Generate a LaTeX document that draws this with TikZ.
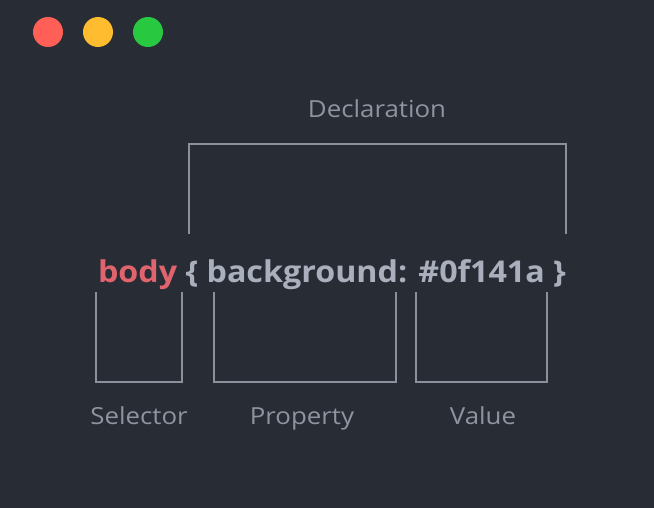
\documentclass[tikz,border=0pt]{standalone}
\usepackage{fontspec}
\setmainfont{Open Sans}
\definecolor{bg}{HTML}{282C35}
\definecolor{dred}{HTML}{FF5F57}
\definecolor{dyel}{HTML}{FEBC2E}
\definecolor{dgrn}{HTML}{28C840}
\definecolor{linec}{HTML}{8B909C}
\definecolor{labc}{HTML}{8E94A0}
\definecolor{codec}{HTML}{A9AFBC}
\definecolor{selc}{HTML}{E0646E}
\tikzset{
  dot/.style={circle,minimum size=30pt,inner sep=0pt},
  brk/.style={draw=linec,line width=1.6pt},
  lab/.style={text=labc,font=\fontsize{23.5}{26}\selectfont,inner sep=0pt,anchor=base,xscale=1.1},
  code/.style={text=codec,font=\fontsize{30}{34}\selectfont\bfseries,inner sep=0pt,anchor=base,xscale=1.075}
}
\begin{document}
\begin{tikzpicture}[x=1pt,y=-1pt]
\fill[bg] (0,0) rectangle (654,508);
\useasboundingbox (0,0) rectangle (654,508);
\node[dot,fill=dred] (r) at (48,32) {};
\node[dot,fill=dyel] (y) at (98,32) {};
\node[dot,fill=dgrn] (g) at (148,32) {};
\node[lab] (decl) at (377,118) {Declaration};
\draw[brk] (189,234) -- (189,144) -- (566,144) -- (566,234);
\node[code] (css) at (332,282) {\textcolor{selc}{body} \{ background: \#0f141a \}};
\draw[brk] (96,292) -- (96,382) -- (182,382) -- (182,292);
\draw[brk] (214,292) -- (214,382) -- (396,382) -- (396,292);
\draw[brk] (416,292) -- (416,382) -- (547,382) -- (547,292);
\node[lab] (sel) at (139,424) {Selector};
\node[lab] (prop) at (302,424) {Property};
\node[lab] (val) at (483,424) {Value};
\end{tikzpicture}
\end{document}
